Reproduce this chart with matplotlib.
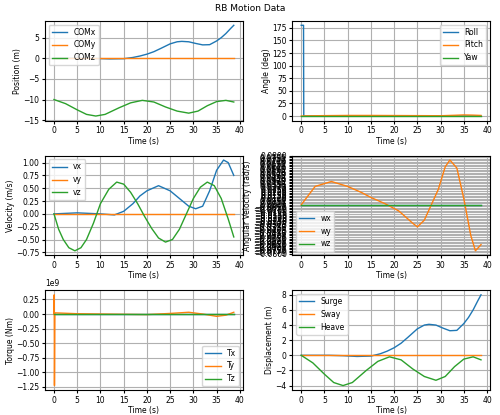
import matplotlib
matplotlib.use("Agg")
import matplotlib.pyplot as plt
from matplotlib.ticker import MultipleLocator

plt.rcParams['font.size'] = 5.5
plt.rcParams['lines.linewidth'] = 1.0

# Position / displacement
t_pos = [0, 3, 6, 9, 12, 15, 17, 18.5, 20, 21.5, 23, 25, 26.5, 27.5, 29, 30.5, 32, 33.5, 35, 36, 37, 38, 38.7]
com_x = [0, 0, 0, -0.05, -0.15, -0.1, 0.2, 0.55, 1.0, 1.6, 2.4, 3.5, 4.0, 4.1, 4.0, 3.6, 3.25, 3.3, 4.2, 5.0, 6.0, 7.2, 8.0]
t_z = [0, 2.5, 5, 7, 9, 11, 14, 16.5, 19, 21.5, 24, 26.5, 29, 31, 33, 35, 37, 38.7]
com_z = [-10, -11.0, -12.5, -13.6, -14.0, -13.6, -12.0, -10.8, -10.2, -10.6, -11.8, -12.8, -13.3, -12.8, -11.5, -10.5, -10.2, -10.6]
com_y = [0] * len(t_pos)
heave = [z + 10 for z in com_z]

# Angles
t_ang = [0, 0.5, 0.55, 5, 10, 15, 20, 25, 30, 33, 35, 37, 38.7]
roll = [180, 180, 0, 0, 0, 0, 0, 0, 0, 0, 0, 0, 0]
pitch = [0, 0, 0.3, 0.8, 1.2, 1.2, 1.0, 0.8, 0.6, 1.5, 2.2, 1.8, 1.2]
yaw = [0] * len(t_ang)

# Velocity
t_v = [0, 1, 2, 3.2, 4.5, 5.8, 7, 8.5, 10, 11.8, 13.5, 15, 16.5, 18, 19.5, 21, 22.5, 24, 25.5, 27, 28.5, 30, 31.5, 33, 34.5, 36, 37.5, 38.7]
vz = [0, -0.3, -0.5, -0.66, -0.72, -0.66, -0.5, -0.18, 0.2, 0.48, 0.62, 0.58, 0.42, 0.2, -0.05, -0.28, -0.47, -0.55, -0.5, -0.3, 0.0, 0.3, 0.52, 0.62, 0.55, 0.3, -0.1, -0.45]
vy = [0] * len(t_v)
t_vx = [0, 5, 10, 13, 15, 17, 18.5, 20, 22.5, 25, 27, 29, 30.5, 32, 33.5, 35, 36.5, 37.5, 38.7]
vx = [0, 0.02, 0, -0.02, 0.05, 0.2, 0.35, 0.45, 0.55, 0.45, 0.3, 0.15, 0.1, 0.15, 0.45, 0.85, 1.05, 1.0, 0.75]

# Angular velocity
t_w = [0, 1.5, 3, 6.5, 10, 13, 15, 18, 21, 24, 25, 26.5, 28, 29.5, 31, 32, 33.5, 35, 36.5, 37.5, 38.7]
wy = [0, 0.015, 0.03, 0.038, 0.03, 0.02, 0.012, 0.002, -0.01, -0.03, -0.036, -0.025, 0.0, 0.025, 0.062, 0.073, 0.06, 0.01, -0.05, -0.075, -0.065]
wx = [0] * len(t_w)
wz = [0] * len(t_w)

# Torque
t_tq = [0, 0.05, 0.1, 0.2, 5, 10, 15, 20, 25, 29, 32, 35, 37, 38.7]
ty = [0, 0.33e9, -1.23e9, 0.02e9, 0.005e9, 0, -0.005e9, -0.01e9, 0.01e9, 0.03e9, 0.0, -0.04e9, -0.02e9, 0.03e9]
tx = [0] * len(t_tq)
tz = [0] * len(t_tq)

fig, axs = plt.subplots(3, 2, figsize=(5, 4.15), dpi=100)
fig.suptitle("RB Motion Data", fontsize=6.5, y=0.99)

def fmt(ax, ylabel, loc, ystep):
    ax.set_xlabel("Time (s)", labelpad=1)
    ax.set_ylabel(ylabel, labelpad=1)
    ax.xaxis.set_major_locator(MultipleLocator(5))
    ax.yaxis.set_major_locator(MultipleLocator(ystep))
    ax.grid(True)
    ax.legend(loc=loc, fontsize=5.5)
    ax.tick_params(pad=1.5, length=2.5)

ax = axs[0, 0]
ax.plot(t_pos, com_x, label="COMx")
ax.plot(t_pos, com_y, label="COMy")
ax.plot(t_z, com_z, label="COMz")
fmt(ax, "Position (m)", "upper left", 5)

ax = axs[0, 1]
ax.plot(t_ang, roll, label="Roll")
ax.plot(t_ang, pitch, label="Pitch")
ax.plot(t_ang, yaw, label="Yaw")
fmt(ax, "Angle (deg)", "upper right", 25)

ax = axs[1, 0]
ax.plot(t_vx, vx, label="vx")
ax.plot(t_v, vy, label="vy")
ax.plot(t_v, vz, label="vz")
fmt(ax, "Velocity (m/s)", "upper left", 0.25)

ax = axs[1, 1]
ax.plot(t_w, wx, label="wx")
ax.plot(t_w, wy, label="wy")
ax.plot(t_w, wz, label="wz")
fmt(ax, "Angular Velocity (rad/s)", "lower left", 0.0025)

ax = axs[2, 0]
ax.plot(t_tq, tx, label="Tx")
ax.plot(t_tq, ty, label="Ty")
ax.plot(t_tq, tz, label="Tz")
fmt(ax, "Torque (Nm)", "lower right", 0.25e9)

ax = axs[2, 1]
ax.plot(t_pos, com_x, label="Surge")
ax.plot(t_pos, com_y, label="Sway")
ax.plot(t_z, heave, label="Heave")
fmt(ax, "Displacement (m)", "upper left", 2)

fig.subplots_adjust(left=0.09, right=0.98, top=0.95, bottom=0.06, wspace=0.25, hspace=0.35)
fig.savefig("out.png")
